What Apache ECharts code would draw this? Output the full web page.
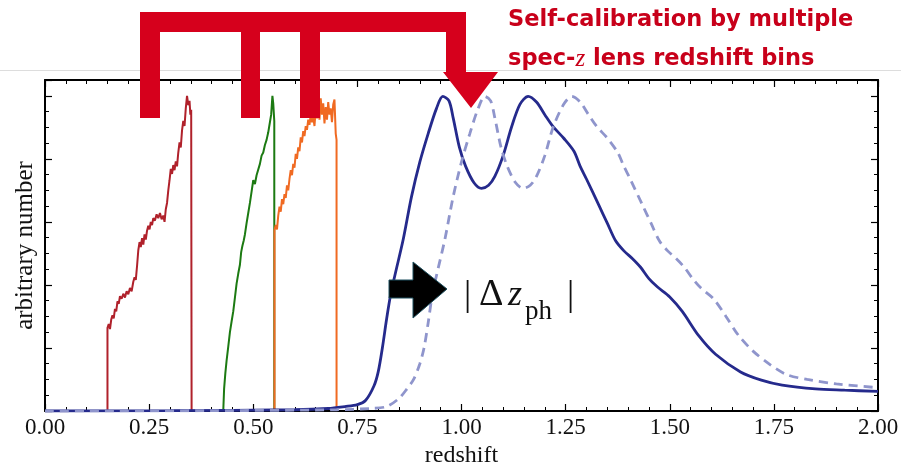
<!DOCTYPE html>
<html>
<head>
<meta charset="utf-8">
<script src="https://cdn.jsdelivr.net/npm/echarts@6/dist/echarts.min.js"></script>
<style>
  html, body { margin: 0; padding: 0; background: #fff; }
  #chart { width: 901px; height: 464px; }
</style>
</head>
<body>
<div id="chart"></div>
<script>
// x tick labels (redshift)
const xTicks = ['0.00', '0.25', '0.50', '0.75', '1.00', '1.25', '1.50', '1.75', '2.00']

// spec-z lens bins, [redshift, arbitrary number]
const lensBin1 = [
  [0.15, 0], [0.15, 1.32], [0.153, 1.38], [0.156, 1.30], [0.159, 1.45], [0.162, 1.52], [0.165, 1.47],
  [0.168, 1.62], [0.171, 1.58], [0.174, 1.74], [0.177, 1.70], [0.180, 1.82], [0.184, 1.78], [0.188, 1.86],
  [0.192, 1.80], [0.196, 1.90], [0.200, 1.85], [0.204, 1.95], [0.208, 1.90], [0.212, 2.05], [0.215, 2.12],
  [0.218, 2.08], [0.221, 2.30], [0.224, 2.55], [0.227, 2.68], [0.230, 2.60], [0.233, 2.74], [0.236, 2.64],
  [0.239, 2.80], [0.242, 2.72], [0.245, 2.86], [0.248, 2.94], [0.251, 2.88], [0.254, 3.00], [0.257, 2.95],
  [0.260, 3.06], [0.264, 3.02], [0.268, 3.12], [0.272, 3.06], [0.276, 3.14], [0.280, 3.04], [0.284, 3.10],
  [0.287, 3.00], [0.290, 3.20], [0.293, 3.30], [0.296, 3.50], [0.299, 3.66], [0.302, 3.84], [0.305, 3.76],
  [0.308, 3.90], [0.311, 3.82], [0.314, 3.96], [0.317, 3.88], [0.320, 4.10], [0.323, 4.26], [0.326, 4.18],
  [0.329, 4.45], [0.332, 4.60], [0.335, 4.52], [0.338, 4.80], [0.341, 5.00], [0.344, 4.85], [0.347, 4.92],
  [0.349, 4.70], [0.351, 4.78], [0.352, 0]
]
const lensBin2 = [
  [0.428, 0], [0.430, 0.35], [0.433, 0.60], [0.436, 0.80], [0.440, 1.02], [0.444, 1.25], [0.448, 1.42],
  [0.452, 1.58], [0.456, 1.80], [0.460, 2.02], [0.464, 2.18], [0.468, 2.32], [0.471, 2.52], [0.474, 2.62],
  [0.477, 2.70], [0.480, 2.80], [0.484, 2.98], [0.488, 3.14], [0.492, 3.30], [0.496, 3.48], [0.500, 3.66],
  [0.504, 3.60], [0.508, 3.74], [0.512, 3.72], [0.516, 3.92], [0.520, 4.05], [0.524, 4.10], [0.528, 4.22],
  [0.532, 4.30], [0.536, 4.42], [0.540, 4.58], [0.543, 4.70], [0.546, 5.00], [0.548, 4.88], [0.5505, 4.6],
  [0.5505, 0]
]
const lensBin3 = [
  [0.551, 0], [0.551, 2.87], [0.554, 2.95], [0.557, 2.88], [0.560, 3.10], [0.563, 3.24], [0.566, 3.16],
  [0.569, 3.36], [0.572, 3.28], [0.575, 3.44], [0.578, 3.38], [0.581, 3.58], [0.584, 3.50], [0.587, 3.68],
  [0.590, 3.82], [0.593, 3.74], [0.596, 3.92], [0.599, 3.86], [0.602, 4.08], [0.605, 4.00], [0.608, 4.18],
  [0.611, 4.12], [0.614, 4.34], [0.617, 4.26], [0.620, 4.44], [0.623, 4.36], [0.626, 4.52], [0.629, 4.46],
  [0.632, 4.62], [0.635, 4.54], [0.638, 4.70], [0.641, 4.58], [0.644, 4.66], [0.647, 4.52], [0.650, 4.78],
  [0.653, 4.64], [0.656, 4.86], [0.659, 4.62], [0.662, 4.96], [0.665, 4.70], [0.668, 4.88], [0.671, 4.56],
  [0.674, 4.82], [0.677, 4.62], [0.680, 4.90], [0.683, 4.70], [0.686, 4.80], [0.689, 4.58], [0.692, 4.86],
  [0.695, 4.94], [0.698, 4.40], [0.700, 4.30], [0.700, 0]
]

// photo-z source distribution (true) and shifted one
const sourceTrue = [
  [0, 0], [0.3, 0.005], [0.6, 0.02], [0.68, 0.04], [0.72, 0.07], [0.75, 0.10], [0.77, 0.17], [0.79, 0.40],
  [0.80, 0.62], [0.81, 1.00], [0.82, 1.45], [0.83, 1.85], [0.84, 2.15], [0.86, 2.72], [0.88, 3.40],
  [0.90, 3.95], [0.92, 4.40], [0.94, 4.80], [0.955, 4.99], [0.97, 4.92], [0.98, 4.65], [0.995, 4.18],
  [1.01, 3.88], [1.03, 3.62], [1.048, 3.53], [1.065, 3.58], [1.08, 3.72], [1.10, 4.05], [1.12, 4.50],
  [1.14, 4.86], [1.16, 4.99], [1.18, 4.90], [1.20, 4.70], [1.22, 4.51], [1.245, 4.33], [1.27, 4.12],
  [1.285, 3.88], [1.30, 3.68], [1.33, 3.26], [1.35, 2.98], [1.37, 2.70], [1.39, 2.54], [1.41, 2.42],
  [1.43, 2.28], [1.45, 2.10], [1.47, 1.97], [1.50, 1.81], [1.53, 1.58], [1.57, 1.19], [1.61, 0.90],
  [1.67, 0.62], [1.72, 0.49], [1.77, 0.41], [1.85, 0.35], [1.92, 0.33], [2.0, 0.31]
]
const sourceShifted = [
  [0, 0], [0.4, 0.005], [0.7, 0.02], [0.78, 0.04], [0.82, 0.07], [0.85, 0.20], [0.87, 0.36], [0.885, 0.50],
  [0.90, 0.75], [0.91, 1.00], [0.92, 1.40], [0.93, 1.85], [0.94, 2.15], [0.96, 2.72], [0.98, 3.40],
  [1.00, 3.95], [1.02, 4.40], [1.04, 4.80], [1.056, 4.99], [1.07, 4.92], [1.08, 4.65], [1.095, 4.18],
  [1.11, 3.88], [1.13, 3.62], [1.148, 3.53], [1.165, 3.58], [1.18, 3.72], [1.20, 4.05], [1.22, 4.50],
  [1.245, 4.86], [1.265, 4.99], [1.285, 4.90], [1.305, 4.70], [1.325, 4.51], [1.35, 4.33], [1.375, 4.10],
  [1.39, 3.88], [1.405, 3.68], [1.435, 3.26], [1.455, 2.98], [1.475, 2.70], [1.495, 2.54], [1.515, 2.42],
  [1.535, 2.28], [1.555, 2.10], [1.575, 1.95], [1.605, 1.78], [1.635, 1.50], [1.665, 1.20], [1.70, 0.95],
  [1.74, 0.74], [1.78, 0.58], [1.83, 0.50], [1.90, 0.43], [2.0, 0.37]
]

const chart = echarts.init(document.getElementById('chart'))

const serif = '"Liberation Serif", "DejaVu Serif", serif'
const red = '#d6001c'
const textRed = '#c8001a'
const boldSans = 'bold 22.5px "DejaVu Sans", sans-serif'

const xAxisBase = {
  type: 'value',
  min: 0,
  max: 2,
  interval: 0.25,
  axisLine: { onZero: false, lineStyle: { color: '#000', width: 2 } },
  axisTick: { inside: true, length: 7, lineStyle: { color: '#000', width: 1.2 } },
  minorTick: { show: true, splitNumber: 5, length: 4, lineStyle: { color: '#000', width: 1 } },
  splitLine: { show: false },
}
const yAxisBase = {
  type: 'value',
  min: 0,
  max: 5.25,
  interval: 1,
  axisLine: { show: true, onZero: false, lineStyle: { color: '#000', width: 2 } },
  axisTick: { inside: true, length: 7, lineStyle: { color: '#000', width: 1.2 } },
  minorTick: { show: true, splitNumber: 4, length: 4, lineStyle: { color: '#000', width: 1 } },
  axisLabel: { show: false },
  splitLine: { show: false },
}

const line = (data, color, width, extra) => Object.assign({
  type: 'line',
  data,
  showSymbol: false,
  symbol: 'none',
  lineStyle: { color, width },
  z: 3,
}, extra || {})

chart.setOption({
  animation: false,
  grid: { left: 45, right: 23, top: 80, bottom: 53, containLabel: false, outerBoundsMode: 'none' },
  xAxis: [
    Object.assign({}, xAxisBase, {
      position: 'bottom',
      axisLabel: {
        margin: 5,
        color: '#111',
        fontFamily: serif,
        fontSize: 23,
        formatter: (v) => xTicks[Math.round(v / 0.25)] || '',
      },
      name: 'redshift',
      nameLocation: 'middle',
      nameGap: 27,
      nameTextStyle: { color: '#111', fontFamily: serif, fontSize: 24 },
    }),
    Object.assign({}, xAxisBase, { position: 'top', axisLabel: { show: false } }),
  ],
  yAxis: [
    Object.assign({}, yAxisBase, {
      position: 'left',
      name: 'arbitrary number',
      nameLocation: 'middle',
      nameGap: 7,
      nameTextStyle: { color: '#111', fontFamily: serif, fontSize: 25 },
    }),
    Object.assign({}, yAxisBase, { position: 'right' }),
  ],
  series: [
    line(lensBin1, '#b0212b', 2),
    line(lensBin2, '#1c7a12', 2),
    line(lensBin3, '#f06a22', 2),
    line(sourceTrue, '#252a8c', 2.8, { smooth: 0.3 }),
    line(sourceShifted, '#8f95cc', 2.8, { smooth: 0.3, lineStyle: { color: '#8f95cc', width: 2.8, type: [9, 6] } }),
  ],
  graphic: [
    // slide separator line
    { type: 'line', shape: { x1: 0, y1: 70.5, x2: 901, y2: 70.5 }, style: { stroke: '#dddddd', lineWidth: 1 }, z: 0 },
    // comb-shaped bracket + arrow
    {
      type: 'polygon',
      shape: {
        points: [
          [140, 12], [466, 12], [466, 72], [498, 72], [471, 108], [443, 72], [446, 72], [446, 32],
          [320, 32], [320, 118], [300, 118], [300, 32], [260, 32], [260, 118], [241, 118], [241, 32],
          [160, 32], [160, 118], [140, 118]
        ]
      },
      style: { fill: red },
      z: 10,
    },
    {
      type: 'text', left: 508, top: 9,
      style: { text: 'Self-calibration by multiple', fill: textRed, font: boldSans },
      z: 10,
    },
    {
      type: 'text', left: 508, top: 47,
      style: {
        text: '{a|spec-}{z|z}{a| lens redshift bins}',
        rich: {
          a: { fill: textRed, font: boldSans },
          z: { fill: textRed, font: 'italic 25px "Liberation Serif", serif' },
        },
      },
      z: 10,
    },
    // black block arrow
    {
      type: 'polygon',
      shape: { points: [[389, 280], [413, 280], [413, 262], [447, 289], [413, 318], [413, 298], [389, 298]] },
      style: { fill: '#000', stroke: '#1d4f5e', lineWidth: 1 },
      z: 10,
    },
    // |Δz_ph|
    { type: 'text', left: 464, top: 278, style: { text: '|', fill: '#111', font: '36px "Liberation Serif", serif' }, z: 10 },
    { type: 'text', left: 479, top: 276, style: { text: 'Δ', fill: '#111', font: '38px "Liberation Serif", serif' }, z: 10 },
    { type: 'text', left: 508, top: 278, style: { text: 'z', fill: '#111', font: 'italic 36px "Liberation Serif", serif' }, z: 10 },
    { type: 'text', left: 525, top: 298, style: { text: 'ph', fill: '#111', font: '27px "Liberation Serif", serif' }, z: 10 },
    { type: 'text', left: 567, top: 278, style: { text: '|', fill: '#111', font: '36px "Liberation Serif", serif' }, z: 10 },
  ],
})
</script>
</body>
</html>
